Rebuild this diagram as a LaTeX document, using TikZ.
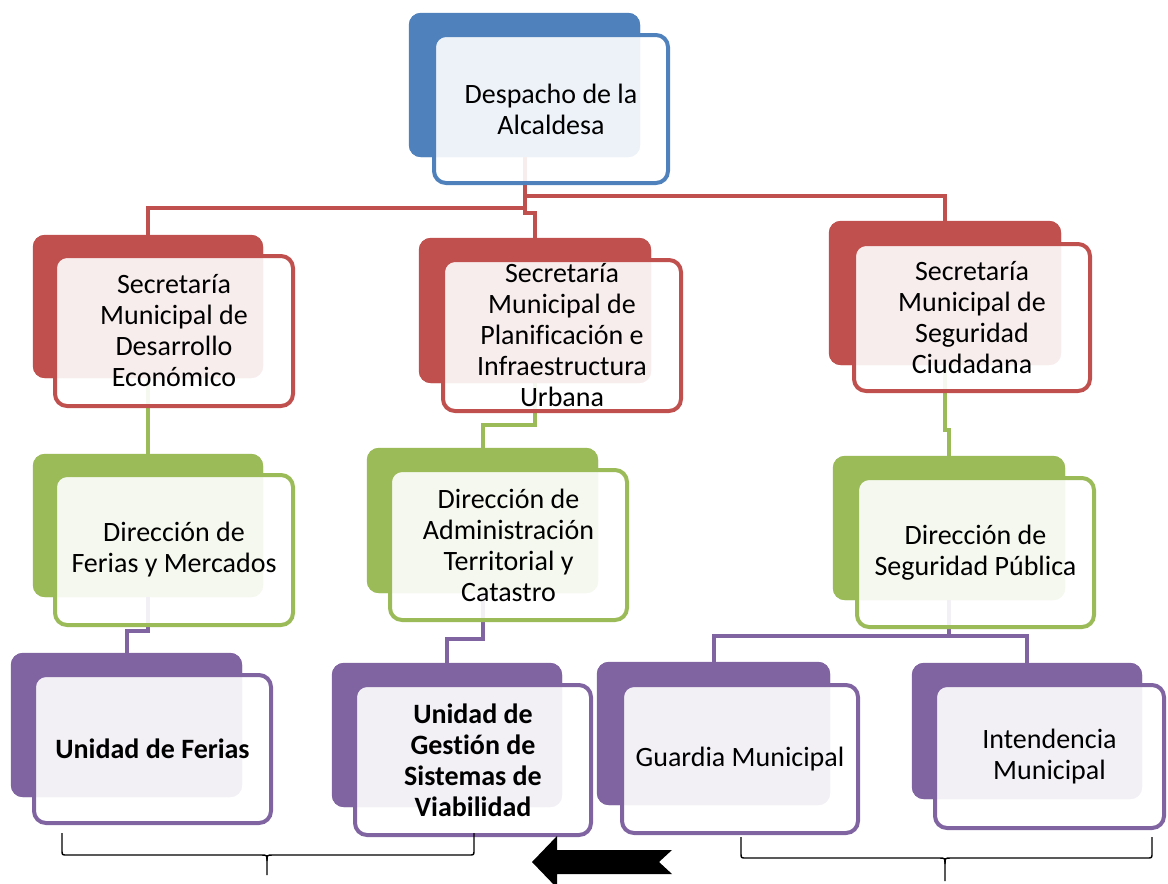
\documentclass[tikz,border=0pt]{standalone}
\usepackage{fontspec}
\setmainfont{Carlito}[Ligatures={NoCommon}]
\definecolor{cblue}{HTML}{4F81BD}
\definecolor{cred}{HTML}{C0504D}
\definecolor{cgreen}{HTML}{9BBB59}
\definecolor{cpurple}{HTML}{8064A2}
\tikzset{
  backbox/.style={fill=#1, rounded corners=12pt, inner sep=0pt},
  frontbox/.style={draw=#1, line width=4pt, fill=white, fill opacity=0.9, draw opacity=1, text opacity=1,
     rounded corners=12pt, inner sep=0pt, align=center, font=\fontsize{28}{31}\selectfont},
  con/.style={line width=4pt, draw=#1},
  bracket/.style={line width=1.4pt, draw=black},
}
\begin{document}
\begin{tikzpicture}[x=1pt,y=-1pt]
\useasboundingbox (0,0) rectangle (1168,884);
% helper levels
\coordinate (ry1) at (0,196);
\coordinate (ry2) at (0,208);
\coordinate (ry3) at (0,213);
\coordinate (gy1) at (0,425);
\coordinate (gy2) at (0,430);
\coordinate (py1) at (0,631);
\coordinate (py2) at (0,639);
\coordinate (py3) at (0,636);

% back shapes (named; filled again over the connectors below)
\path
 (524.5,85)  node[backbox=cblue,  minimum width=231pt, minimum height=144pt] (despb) {}
 (148,306.5) node[backbox=cred,   minimum width=230pt, minimum height=143pt] (desb) {}
 (535,310.5) node[backbox=cred,   minimum width=232pt, minimum height=145pt] (planb) {}
 (945,293)   node[backbox=cred,   minimum width=232pt, minimum height=144pt] (segb) {}
 (148,525.5) node[backbox=cgreen, minimum width=230pt, minimum height=143pt] (ferb) {}
 (482.5,520.5) node[backbox=cgreen, minimum width=231pt, minimum height=145pt] (admb) {}
 (949,528)   node[backbox=cgreen, minimum width=232pt, minimum height=144pt] (segpb) {}
 (126.5,725) node[backbox=cpurple, minimum width=231pt, minimum height=144pt] (ufb) {}
 (447,735)   node[backbox=cpurple, minimum width=230pt, minimum height=144pt] (ugb) {}
 (713.5,733.5) node[backbox=cpurple, minimum width=233pt, minimum height=143pt] (guab) {}
 (1027,731)  node[backbox=cpurple, minimum width=230pt, minimum height=136pt] (intb) {};

% connectors
\draw[con=cred] (despb.south) -- (despb.south |- ry1) -- (segb.north |- ry1) -- (segb.north);
\draw[con=cred] (despb.south |- ry1) -- (despb.south |- ry2) -- (desb.north |- ry2) -- (desb.north);
\draw[con=cred] (despb.south |- ry2) -- (despb.south |- ry3) -- (planb.north |- ry3) -- (planb.north);
\draw[con=cgreen] (desb.south) -- (ferb.north);
\draw[con=cgreen] (planb.south) -- (planb.south |- gy1) -- (admb.north |- gy1) -- (admb.north);
\draw[con=cgreen] (segb.south) -- (segb.south |- gy2) -- (segpb.north |- gy2) -- (segpb.north);
\draw[con=cpurple] (ferb.south) -- (ferb.south |- py1) -- (ufb.north |- py1) -- (ufb.north);
\draw[con=cpurple] (admb.south) -- (admb.south |- py2) -- (ugb.north |- py2) -- (ugb.north);
\draw[con=cpurple] (segpb.south) -- (segpb.south |- py3) -- (guab.north |- py3) -- (guab.north);
\draw[con=cpurple] (segpb.south |- py3) -- (intb.north |- py3) -- (intb.north);

% back shapes over the connectors
\foreach \n/\c in {despb/cblue, desb/cred, planb/cred, segb/cred, ferb/cgreen, admb/cgreen,
                   segpb/cgreen, ufb/cpurple, ugb/cpurple, guab/cpurple, intb/cpurple}
  \fill[\c, rounded corners=12pt] (\n.north west) rectangle (\n.south east);

% front boxes
\node[frontbox=cblue, minimum width=234pt, minimum height=148pt] (desp) at (551,109) {Despacho de la\\Alcaldesa};
\node[frontbox=cred, minimum width=238pt, minimum height=150pt] (des) at (174,331) {Secretaría\\Municipal de\\Desarrollo\\Económico};
\node[frontbox=cred, minimum width=238pt, minimum height=151pt] (plan) at (562,335.5) {Secretaría\\Municipal de\\Planificación e\\Infraestructura\\Urbana};
\node[frontbox=cred, minimum width=236pt, minimum height=147pt] (seg) at (972,317.5) {Secretaría\\Municipal de\\Seguridad\\Ciudadana};
\node[frontbox=cgreen, minimum width=238pt, minimum height=150pt] (fer) at (174,550) {Dirección de\\Ferias y Mercados};
\node[frontbox=cgreen, minimum width=237pt, minimum height=150pt] (adm) at (508.5,545) {Dirección de\\Administración\\Territorial y\\Catastro};
\node[frontbox=cgreen, minimum width=237pt, minimum height=149pt] (segp) at (975.5,552.5) {Dirección de\\Seguridad Pública};
\node[frontbox=cpurple, minimum width=237pt, minimum height=148pt] (uf) at (152.5,749) {\bfseries Unidad de Ferias};
\node[frontbox=cpurple, minimum width=236pt, minimum height=150pt] (ug) at (473,760) {\bfseries Unidad de\\\bfseries Gestión de\\\bfseries Sistemas de\\\bfseries Viabilidad};
\node[frontbox=cpurple, minimum width=236pt, minimum height=148pt] (gua) at (740,759) {Guardia Municipal};
\node[frontbox=cpurple, minimum width=229pt, minimum height=143pt] (int) at (1049.5,756.5) {Intendencia\\Municipal};

% braces
\draw[bracket] (62,833) -- (62,850) .. controls (62,855) .. (67,855) -- (261,855)
   .. controls (267,855) .. (267,861) -- (267,875);
\draw[bracket] (474,833) -- (474,850) .. controls (474,855) .. (469,855) -- (273,855)
   .. controls (267,855) .. (267,861);
\draw[bracket] (741,837) -- (741,853) .. controls (741,858) .. (746,858) -- (939,858)
   .. controls (945,858) .. (945,864) -- (945,881);
\draw[bracket] (1152,837) -- (1152,853) .. controls (1152,858) .. (1147,858) -- (951,858)
   .. controls (945,858) .. (945,864);

% arrow
\fill[black] (532,862) -- (557,836) -- (557,850) -- (672,850) -- (659,862) -- (672,874)
   -- (557,874) -- (557,888) -- cycle;
\end{tikzpicture}
\end{document}
